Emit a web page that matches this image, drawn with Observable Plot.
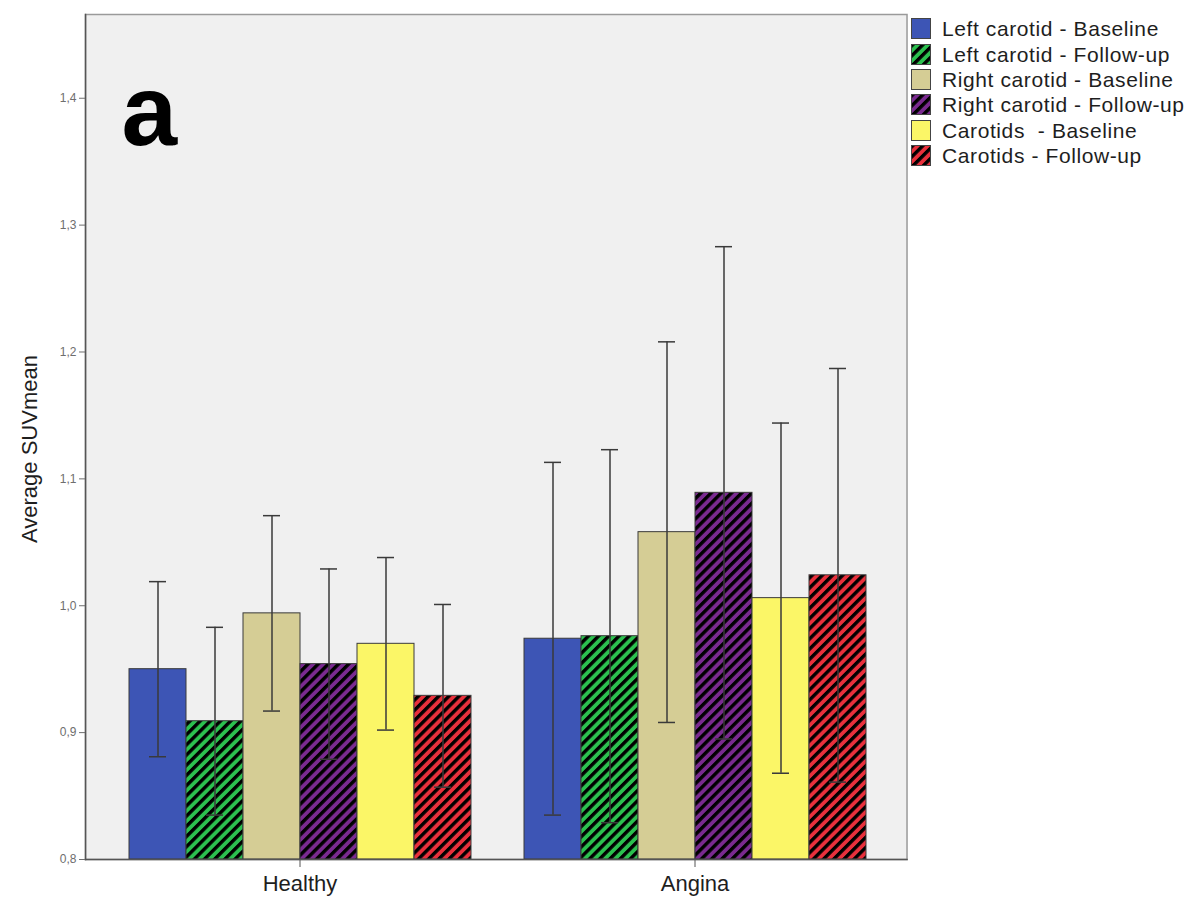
<!DOCTYPE html>
<html><head><meta charset="utf-8">
<script src="https://cdn.jsdelivr.net/npm/d3@7"></script>
<script src="https://cdn.jsdelivr.net/npm/@observablehq/plot@0.6"></script>
<style>
body{margin:0;background:#fff;font-family:"Liberation Sans",Arial,sans-serif;}
#wrap{position:relative;width:1191px;height:900px;}
#chart{position:absolute;left:0;top:0;}
#legend{position:absolute;left:911px;top:16px;}
.row{display:flex;align-items:center;height:25.4px;}
.row svg{flex:none;}
.row span{margin-left:11px;font-size:21px;color:#1e1e1e;white-space:pre;letter-spacing:0.6px;line-height:1}
</style></head><body>
<div id="wrap"><div id="chart"></div><div id="legend"></div></div>
<script>
const groups = ["Healthy", "Angina"];
const series = ["Left carotid - Baseline", "Left carotid - Follow-up", "Right carotid - Baseline", "Right carotid - Follow-up", "Carotids  - Baseline", "Carotids - Follow-up"];
const healthyMean = [0.950, 0.909, 0.994, 0.954, 0.970, 0.929];
const healthyErr  = [0.069, 0.074, 0.077, 0.075, 0.068, 0.072];
const anginaMean  = [0.974, 0.976, 1.058, 1.089, 1.006, 1.024];
const anginaErr   = [0.139, 0.147, 0.150, 0.194, 0.138, 0.163];
const yTicks = [0.8, 0.9, 1.0, 1.1, 1.2, 1.3, 1.4];
const colors = ["#3d55b5", "#2cc04f", "#d5cd95", "#7a2a90", "#fbf667", "#e8303c"];
const hatched = [false, true, false, true, false, true];

const fillOf = i => hatched[i] ? `url(#hatch${i})` : colors[i];
const data = [];
groups.forEach((g, gi) => {
  const m = gi === 0 ? healthyMean : anginaMean;
  const e = gi === 0 ? healthyErr : anginaErr;
  series.forEach((s, i) => data.push({group: g, series: s, mean: m[i], err: e[i], fill: fillOf(i)}));
});

const fmt = d => d.toFixed(1).replace(".", ",");
const font = "'Liberation Sans', Arial, sans-serif";

// layout
const W = 910, H = 900, mL = 84, mR = 3, mT = 14, mB = 41;
const padIn = 0.1275, padOut = 0.1029, align = 0.515;
const innerW = W - mL - mR;
const step = innerW / (groups.length - padIn + 2 * padOut);
const spare = innerW - step * (groups.length - padIn);
const outerL = spare * align, outerR = spare * (1 - align);

const chart = Plot.plot({
  width: W, height: H,
  marginLeft: mL, marginRight: mR, marginTop: mT, marginBottom: mB,
  facet: {marginLeft: 0, marginRight: 0, marginTop: 0, marginBottom: 0},
  style: {fontFamily: font, background: "transparent", color: "#222"},
  fx: {domain: groups, paddingInner: padIn, paddingOuter: padOut, align, label: null, axis: null},
  x: {domain: series, padding: 0, axis: null},
  y: {domain: [0.8, 1.466], axis: null},
  color: {type: "identity"},
  marks: [
    Plot.frame({fill: "#f0f0f0", stroke: "#9a9a9a", strokeWidth: 1.5, insetLeft: -outerL, insetRight: -outerR, facet: "super"}),
    Plot.barY(data, {fx: "group", x: "series", y1: 0.8, y2: "mean", fill: "fill", stroke: "#3a3a3a", strokeWidth: 1}),
    Plot.ruleX(data, {fx: "group", x: "series", y1: d => d.mean - d.err, y2: d => d.mean + d.err, stroke: "#3a3a3a", strokeWidth: 1.5}),
    Plot.tickY(data, {fx: "group", x: "series", y: d => d.mean + d.err, insetLeft: 20, insetRight: 20, stroke: "#3a3a3a", strokeWidth: 1.5}),
    Plot.tickY(data, {fx: "group", x: "series", y: d => d.mean - d.err, insetLeft: 20, insetRight: 20, stroke: "#3a3a3a", strokeWidth: 1.5}),
    Plot.frame({anchor: "bottom", stroke: "#555", strokeWidth: 1.5, insetLeft: -outerL, insetRight: -outerR, facet: "super"}),
    Plot.frame({anchor: "left", stroke: "#555", strokeWidth: 1.5, insetLeft: -outerL, insetRight: -outerR, facet: "super"}),
    Plot.axisY(yTicks, {tickFormat: fmt, tickSize: 6, tickPadding: 3, fontSize: 12, color: "#6e6e6e", label: null, dx: -outerL}),
    Plot.axisFx({anchor: "bottom", tickSize: 8, tickPadding: 8, fontSize: 22, label: null, stroke: "#555", fill: "#1e1e1e"}),
    Plot.text(["Average SUVmean"], {text: d => d, frameAnchor: "left", textAnchor: "middle", rotate: -90, dx: -outerL - 56, dy: 12, fontSize: 22, fill: "#1e1e1e", facet: "super"}),
    Plot.text(["a"], {text: d => d, frameAnchor: "top-left", textAnchor: "start", lineAnchor: "middle", dx: 36 - outerL, dy: 98, fontSize: 100, fontWeight: "bold", fill: "#000", facet: "super"})
  ]
});

// hatch pattern definitions
const svgns = "http://www.w3.org/2000/svg";
const defs = document.createElementNS(svgns, "defs");
series.forEach((s, i) => {
  if (!hatched[i]) return;
  const p = document.createElementNS(svgns, "pattern");
  p.setAttribute("id", `hatch${i}`);
  p.setAttribute("patternUnits", "userSpaceOnUse");
  p.setAttribute("width", "7.2");
  p.setAttribute("height", "7.2");
  p.setAttribute("patternTransform", "rotate(45)");
  const r1 = document.createElementNS(svgns, "rect");
  r1.setAttribute("width", "7.2"); r1.setAttribute("height", "7.2"); r1.setAttribute("fill", colors[i]);
  const r2 = document.createElementNS(svgns, "rect");
  r2.setAttribute("width", "3.4"); r2.setAttribute("height", "7.2"); r2.setAttribute("fill", "#000");
  p.appendChild(r1); p.appendChild(r2);
  defs.appendChild(p);
});
const svgEl = chart.tagName.toLowerCase() === "svg" ? chart : chart.querySelector("svg");
svgEl.insertBefore(defs, svgEl.firstChild);
document.getElementById("chart").appendChild(chart);

// legend
const legend = d3.select("#legend");
series.forEach((s, i) => {
  const row = legend.append("div").attr("class", "row");
  const sw = row.append("svg").attr("width", 20).attr("height", 21);
  sw.append("rect").attr("x", 0.5).attr("y", 0.5).attr("width", 19).attr("height", 20)
    .attr("fill", fillOf(i)).attr("stroke", "#444").attr("stroke-width", 1);
  row.append("span").text(s);
});
</script>
</body></html>
